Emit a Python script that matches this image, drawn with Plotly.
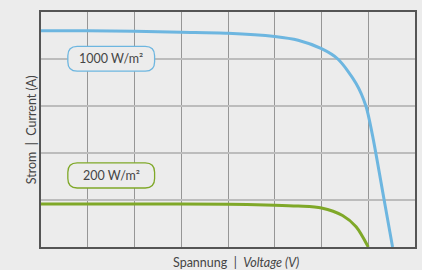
import plotly.graph_objects as go

# Data
voltage_1000 = [0, 1, 2, 3, 4, 5, 5.5, 6, 6.35, 6.74, 6.95, 7.09, 7.34, 7.52]
current_1000 = [4.6, 4.6, 4.59, 4.57, 4.55, 4.48, 4.40, 4.22, 4.0, 3.48, 3.0, 2.38, 1.0, 0]
voltage_200 = [0, 2, 4, 5, 5.5, 6, 6.45, 6.74, 7.0]
current_200 = [0.915, 0.915, 0.91, 0.89, 0.87, 0.83, 0.67, 0.43, 0]
label_1000 = "1000 W/m²"
label_200 = "200 W/m²"
x_title = "Spannung  |  <i>Voltage (V)</i>"
y_title = "Strom  |  Current (A)"

BLUE = "#6db6e0"
GREEN = "#7fa828"
BG = "#ececec"
TXT = "#454545"
FONT = "Lato"

fig = go.Figure()
fig.add_trace(go.Scatter(x=voltage_1000, y=current_1000, mode="lines",
                         line=dict(color=BLUE, width=3, shape="spline", smoothing=0.8),
                         hoverinfo="skip"))
fig.add_trace(go.Scatter(x=voltage_200, y=current_200, mode="lines",
                         line=dict(color=GREEN, width=3, shape="spline", smoothing=0.8),
                         hoverinfo="skip"))


def rounded_box(x0, x1, y0, y1, r):
    return (f"M {x0+r},{y0} L {x1-r},{y0} Q {x1},{y0} {x1},{y0+r} "
            f"L {x1},{y1-r} Q {x1},{y1} {x1-r},{y1} L {x0+r},{y1} "
            f"Q {x0},{y1} {x0},{y1-r} L {x0},{y0+r} Q {x0},{y0} {x0+r},{y0} Z")


boxes = [
    (label_1000, BLUE, 3.74, 4.27),
    (label_200, GREEN, 1.255, 1.79),
]
for text, col, y0, y1 in boxes:
    fig.add_shape(type="path", path=rounded_box(0.574, 2.43, y0, y1, 0.2),
                  xref="x", yref="y", line=dict(color=col, width=1.3),
                  fillcolor=BG, layer="above")
    fig.add_annotation(x=(0.574 + 2.43) / 2, y=(y0 + y1) / 2, xref="x", yref="y",
                       text=text, showarrow=False,
                       font=dict(family=FONT, size=12.5, color=TXT))

fig.add_annotation(x=0.521, y=-0.066, xref="paper", yref="paper",
                   text=x_title, showarrow=False, yanchor="middle",
                   font=dict(family=FONT, size=12.5, color=TXT))
fig.add_annotation(x=-0.05, y=0.5, xref="paper", yref="paper",
                   text=y_title, showarrow=False, textangle=-90,
                   font=dict(family=FONT, size=12.5, color=TXT))

axis_common = dict(showline=True, mirror=True, linecolor="#555555", linewidth=2,
                   showticklabels=False, ticks="", zeroline=False,
                   showgrid=True, dtick=1)
fig.update_xaxes(range=[0, 8], gridcolor="#969696", gridwidth=1, **axis_common)
fig.update_yaxes(range=[0, 5], gridcolor="#bcbcbc", gridwidth=1.6, **axis_common)

fig.update_layout(width=422, height=270, paper_bgcolor=BG, plot_bgcolor=BG,
                  margin=dict(l=41, r=5, t=12, b=23), showlegend=False)

fig.write_html("out.html",
               config={"displayModeBar": False, "staticPlot": True},
               post_script="document.body.style.margin='0';"
                           "document.body.style.overflow='hidden';"
                           "document.body.style.background='#ececec';")
